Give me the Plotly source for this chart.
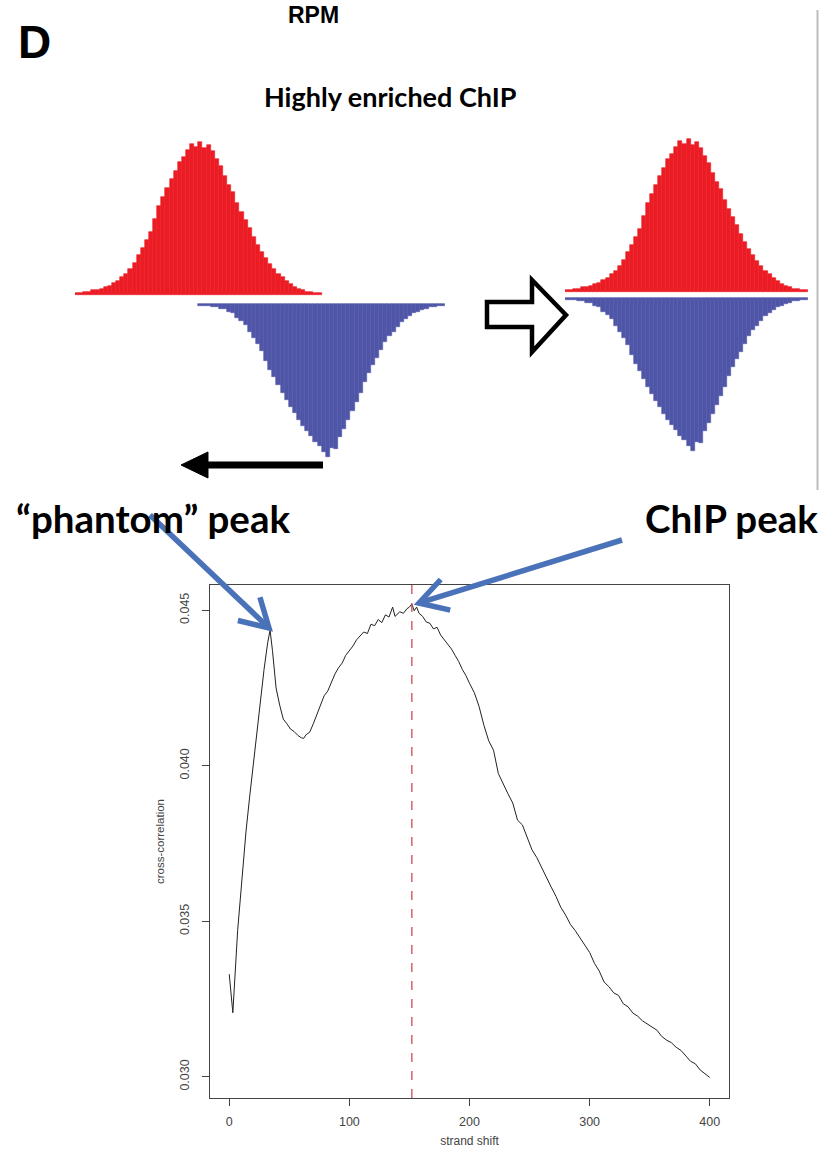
import math
import plotly.graph_objects as go

# ---------------- data ----------------
# read-depth profiles of the top panel (arbitrary RPM units, 60 bins each)
red_counts = [1, 1, 2, 2, 3, 3, 4, 5, 6, 8, 9, 12, 14, 17, 21, 26, 31, 36, 41, 50,
              58, 64, 70, 76, 81, 87, 90, 95, 99, 97, 100, 96, 98, 94, 89, 84, 78, 72, 67, 60,
              54, 49, 44, 38, 33, 28, 24, 20, 17, 14, 12, 9, 7, 5, 4, 3, 2, 2, 1, 1]
blue_counts = [1, 1, 1, 2, 2, 3, 3, 5, 6, 9, 11, 14, 18, 22, 26, 31, 37, 43, 48, 53,
               58, 63, 67, 71, 76, 80, 83, 86, 90, 93, 97, 100, 94, 95, 87, 82, 76, 70, 64, 58,
               51, 45, 40, 35, 30, 25, 21, 18, 15, 12, 10, 8, 6, 5, 4, 3, 2, 2, 1, 1]
left_blue_offset_bins = 30          # minus strand shifted right in the left pair

# strand cross-correlation profile
strand_shift = [0, 3, 7, 11, 14, 17, 21, 25, 29, 32, 34, 36, 39, 42, 45, 48, 51, 54, 57, 60,
                62, 64, 67, 70, 73, 76, 79, 82, 85, 88, 91, 94, 97, 100, 103, 106, 109, 112, 115, 118,
                121, 124, 127, 130, 133, 136, 138, 140, 142, 145, 148, 150, 152, 154, 156, 158, 161, 164, 167, 170,
                173, 176, 179, 182, 185, 188, 191, 194, 197, 200, 204, 208, 212, 216, 220, 224, 228, 232, 236, 240,
                244, 248, 252, 256, 260, 264, 268, 272, 276, 280, 284, 288, 292, 296, 300, 304, 308, 312, 316, 320,
                324, 328, 332, 336, 340, 344, 348, 352, 356, 360, 364, 368, 372, 376, 380, 384, 388, 392, 396, 400]
cross_correlation = [0.03330, 0.03206, 0.03470, 0.03660, 0.03790, 0.03900, 0.04040, 0.04185, 0.04310, 0.04395,
                     0.04436, 0.04370, 0.04250, 0.04195, 0.04150, 0.04135, 0.04118, 0.04110, 0.04098, 0.04090,
                     0.04088, 0.04100, 0.04108, 0.04135, 0.04165, 0.04190, 0.04225, 0.04240, 0.04270, 0.04295,
                     0.04315, 0.04330, 0.04355, 0.04370, 0.04385, 0.04405, 0.04418, 0.04430, 0.04425, 0.04455,
                     0.04450, 0.04470, 0.04460, 0.04485, 0.04478, 0.04510, 0.04480, 0.04488, 0.04495, 0.04490,
                     0.04505, 0.04510, 0.04520, 0.04498, 0.04510, 0.04490, 0.04480, 0.04462, 0.04458, 0.04440,
                     0.04445, 0.04420, 0.04405, 0.04390, 0.04375, 0.04355, 0.04335, 0.04310, 0.04290, 0.04265,
                     0.04235, 0.04190, 0.04130, 0.04080, 0.04050, 0.03975, 0.03940, 0.03910, 0.03880, 0.03825,
                     0.03810, 0.03770, 0.03730, 0.03705, 0.03672, 0.03640, 0.03610, 0.03580, 0.03545, 0.03520,
                     0.03490, 0.03470, 0.03448, 0.03422, 0.03400, 0.03365, 0.03340, 0.03305, 0.03290, 0.03270,
                     0.03262, 0.03235, 0.03225, 0.03205, 0.03195, 0.03180, 0.03170, 0.03162, 0.03150, 0.03130,
                     0.03118, 0.03110, 0.03095, 0.03085, 0.03068, 0.03050, 0.03042, 0.03022, 0.03010, 0.02998]
chip_peak_shift = 152
x_ticks = [0, 100, 200, 300, 400]
y_ticks = [0.030, 0.035, 0.040, 0.045]
y_tick_text = ["0.030", "0.035", "0.040", "0.045"]

# ---------------- helpers (pixel -> paper) ----------------
W, H = 829, 1154


def px(x):
    return x / W


def py(y):
    return 1 - y / H


RED = "#ec1c24"
BLUE = "#4f56a8"
ARROW_BLUE = "#4a72b8"
FONT_BOLD = "Lato"
FONT_R = "Liberation Sans, Arial"

fig = go.Figure()

# ---------------- top panel: read profiles ----------------
bins = list(range(len(red_counts)))
SCALE = 1.53  # px per unit

# left pair (xaxis2/yaxis2)
fig.add_trace(go.Bar(x=bins, y=red_counts, width=1, marker=dict(color=RED, line=dict(width=0.6, color=RED)),
                     xaxis="x2", yaxis="y2", hoverinfo="skip"))
fig.add_trace(go.Bar(x=[b + left_blue_offset_bins for b in bins], y=[-v for v in blue_counts],
                     base=-9 / SCALE, width=1,
                     marker=dict(color=BLUE, line=dict(width=0.6, color=BLUE)),
                     xaxis="x2", yaxis="y2", hoverinfo="skip"))
# right pair (xaxis3/yaxis3)
fig.add_trace(go.Bar(x=bins, y=red_counts, width=1, marker=dict(color=RED, line=dict(width=0.6, color=RED)),
                     xaxis="x3", yaxis="y3", hoverinfo="skip"))
fig.add_trace(go.Bar(x=bins, y=[-v for v in blue_counts], base=-6 / SCALE, width=1,
                     marker=dict(color=BLUE, line=dict(width=0.6, color=BLUE)),
                     xaxis="x3", yaxis="y3", hoverinfo="skip"))

# ---------------- bottom: cross-correlation ----------------
fig.add_trace(go.Scatter(x=strand_shift, y=cross_correlation, mode="lines",
                         line=dict(color="#222222", width=1), xaxis="x", yaxis="y",
                         hoverinfo="skip"))

hidden = dict(visible=False, showgrid=False, zeroline=False, fixedrange=True)

fig.update_layout(
    width=W, height=H,
    margin=dict(l=0, r=0, t=0, b=0),
    paper_bgcolor="white", plot_bgcolor="rgba(0,0,0,0)",
    showlegend=False, barmode="overlay", bargap=0,
    xaxis=dict(domain=[px(210), px(729)], range=[-16, 416], tickvals=x_ticks,
               ticks="outside", ticklen=7, tickcolor="#444", showline=True, mirror=True,
               linecolor="#444", linewidth=1, showgrid=False, zeroline=False,
               ticklabelstandoff=5,
               tickfont=dict(family=FONT_R, size=12.5, color="#444"),
               title=dict(text="strand shift", font=dict(family=FONT_R, size=12, color="#444"), standoff=8)),
    yaxis=dict(domain=[py(1098), py(585)], range=[0.02932, 0.04581], tickvals=y_ticks, ticktext=y_tick_text,
               tickangle=-90, ticks="outside", ticklen=7, tickcolor="#444", showline=True, mirror=True,
               linecolor="#444", linewidth=1, showgrid=False, zeroline=False,
               ticklabelstandoff=8,
               tickfont=dict(family=FONT_R, size=12.5, color="#444"),
               title=dict(text="cross-correlation", font=dict(family=FONT_R, size=11.5, color="#444"), standoff=10)),
    xaxis2=dict(domain=[px(75), px(445)], range=[-0.5, 89.5], anchor="y2", **hidden),
    yaxis2=dict(domain=[py(470), py(120)], range=[-(470 - 295) / SCALE, (295 - 120) / SCALE], anchor="x2", **hidden),
    xaxis3=dict(domain=[px(565), px(808)], range=[-0.5, 59.5], anchor="y3", **hidden),
    yaxis3=dict(domain=[py(470), py(120)], range=[-(470 - 292) / SCALE, (292 - 120) / SCALE], anchor="x3", **hidden),
)

shapes = []
# dashed vertical line at the ChIP peak
shapes.append(dict(type="line", xref="x", yref="y domain", x0=chip_peak_shift, x1=chip_peak_shift, y0=0, y1=1,
                   line=dict(color="rgba(205,70,80,0.85)", width=1.5, dash="dash")))


def poly(points):
    s = "M " + " L ".join(f"{px(a):.5f},{py(b):.5f}" for a, b in points) + " Z"
    return s


# hollow right-pointing arrow
shapes.append(dict(type="path", xref="paper", yref="paper",
                   path=poly([(487, 302), (532, 302), (532, 280), (566, 315), (532, 352), (532, 327), (487, 327)]),
                   fillcolor="white", line=dict(color="black", width=4.5)))
# black left arrow
shapes.append(dict(type="line", xref="paper", yref="paper", x0=px(323), y0=py(465), x1=px(203), y1=py(465),
                   line=dict(color="black", width=7)))
shapes.append(dict(type="path", xref="paper", yref="paper",
                   path=poly([(181, 465), (208, 452), (208, 478)]),
                   fillcolor="black", line=dict(color="black", width=1)))
# panel border
shapes.append(dict(type="line", xref="paper", yref="paper", x0=px(817.5), y0=py(10), x1=px(817.5), y1=py(490),
                   line=dict(color="#bdbdbd", width=2)))


def blue_arrow(x0, y0, x1, y1, L=32, ang=30):
    dx, dy = x1 - x0, y1 - y0
    n = math.hypot(dx, dy)
    ux, uy = dx / n, dy / n
    out = [dict(type="line", xref="paper", yref="paper", x0=px(x0), y0=py(y0), x1=px(x1 - ux * 2), y1=py(y1 - uy * 2),
                line=dict(color=ARROW_BLUE, width=5.5))]
    pts = []
    for s in (1, -1):
        a = math.radians(ang * s)
        rx = -(ux * math.cos(a) - uy * math.sin(a))
        ry = -(ux * math.sin(a) + uy * math.cos(a))
        pts.append((x1 + rx * L, y1 + ry * L))
    path = (f"M {px(pts[0][0]):.5f},{py(pts[0][1]):.5f} L {px(x1):.5f},{py(y1):.5f} "
            f"L {px(pts[1][0]):.5f},{py(pts[1][1]):.5f}")
    out.append(dict(type="path", xref="paper", yref="paper", path=path,
                    line=dict(color=ARROW_BLUE, width=5.5)))
    return out


shapes += blue_arrow(150, 515, 269, 628)
shapes += blue_arrow(622, 540, 419, 603)
fig.update_layout(shapes=shapes)

ann = []


def text(t, x, y, size, family, xanchor="center", color="black"):
    ann.append(dict(text=t, x=px(x), y=py(y), xref="paper", yref="paper", showarrow=False,
                    xanchor=xanchor, yanchor="middle", font=dict(family=family, size=size, color=color)))


text("<b>D</b>", 34, 42, 46, FONT_R)
text("<b>RPM</b>", 313, 15, 23, FONT_R)
text("<b>Highly enriched ChIP</b>", 390, 97, 27, FONT_BOLD)
text("<b>“phantom” peak</b>", 14, 518, 38.5, FONT_BOLD, xanchor="left")
text("<b>ChIP peak</b>", 820, 518, 38.5, FONT_BOLD, xanchor="right")
fig.update_layout(annotations=ann)

fig.write_html("out.html")
